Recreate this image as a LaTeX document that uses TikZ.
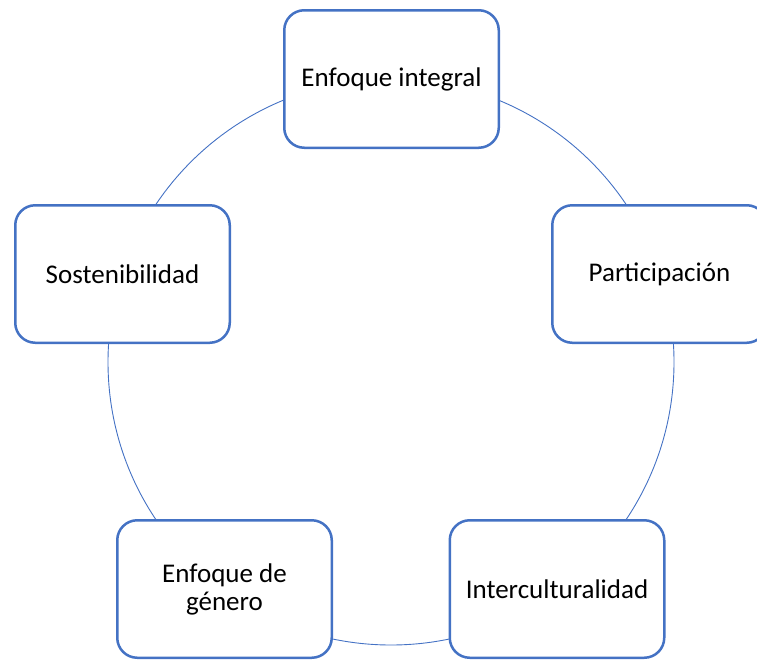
\documentclass[tikz,border=0pt]{standalone}
\usepackage{fontspec}
\setmainfont{Carlito}
\usepackage{tikz}
\definecolor{ciclo}{HTML}{4472C4}

\begin{document}
\begin{tikzpicture}[x=1pt,y=1pt,
    caja/.style={draw=ciclo,line width=2.5pt,fill=white,rounded corners=20pt,
        minimum width=214.5pt,minimum height=137.5pt,inner sep=0pt,align=center,
        font=\fontsize{27}{28}\selectfont}]
            \useasboundingbox (0,0) rectangle (757,-659);
            \coordinate (centro) at (391,-362);
            \draw [ciclo,line width=0.9pt] (centro) circle [radius=283];
            \node [caja] (integral) at (391.5,-79) {Enfoque integral};
            \node [caja] (participacion) at (659.5,-274) {Participación};
            \node [caja] (intercultural) at (557,-589) {Interculturalidad};
            \node [caja] (genero) at (224.5,-589) {Enfoque de\\género};
            \node [caja] (sostenible) at (122.5,-274) {Sostenibilidad};
        \end{tikzpicture}
\end{document}
